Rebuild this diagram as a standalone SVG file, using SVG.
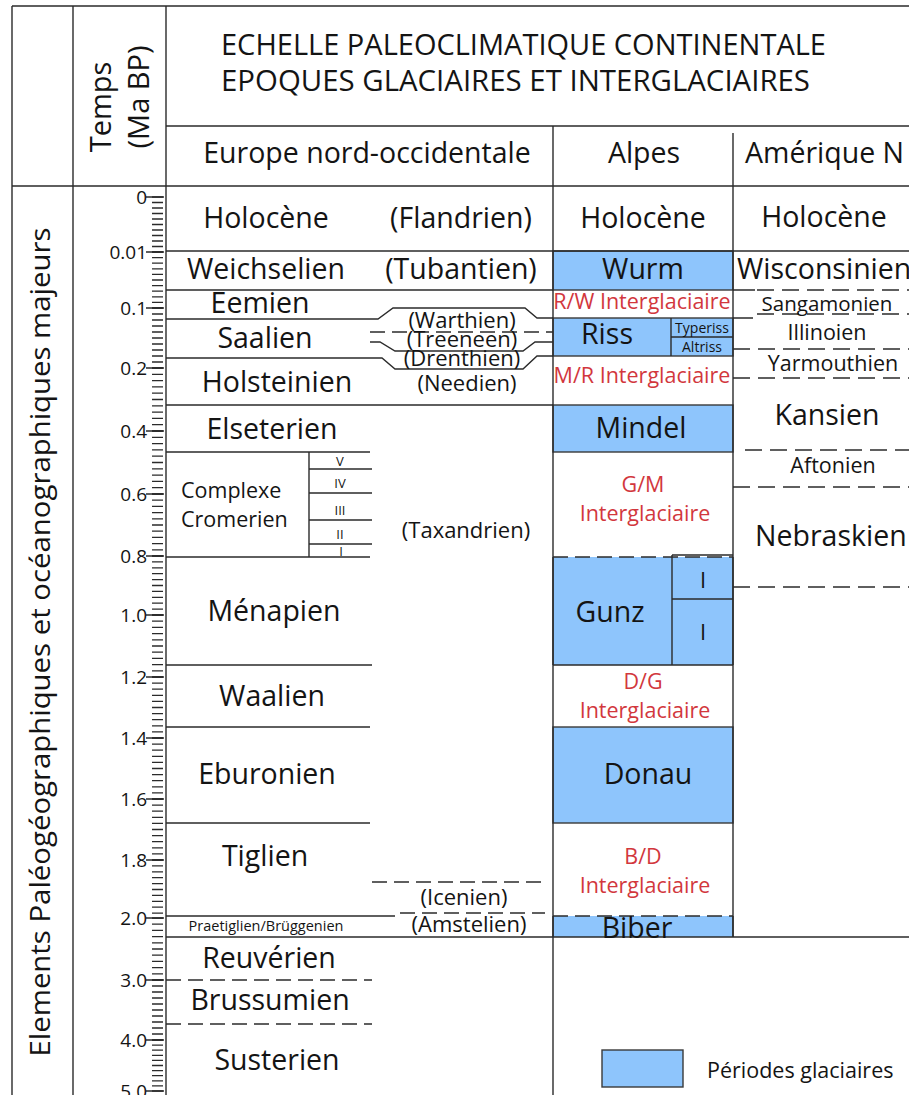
<svg xmlns="http://www.w3.org/2000/svg" width="909" height="1095" viewBox="0 0 909 1095">
<style>
text{font-family:"Open Sans","Liberation Sans",sans-serif;fill:#141414}
.l{stroke:#2b2b2b;stroke-width:1.4;fill:none}
.d{stroke:#2b2b2b;stroke-width:1.4;fill:none;stroke-dasharray:15 7}
.da{stroke:#2b2b2b;stroke-width:1.4;fill:none;stroke-dasharray:17 8}
.g{fill:#8ec5fc;stroke:none}
.gs{fill:#8ec5fc;stroke:#3a3a3a;stroke-width:1.4}
.r{fill:#d2373d}
.c{text-anchor:middle}
.big{font-size:28.5px}
.mid{font-size:22px}
.ig{font-size:21.5px}
.tk{font-size:19px;text-anchor:end}
.mt{stroke:#2b2b2b;stroke-width:11;fill:none}
</style>
<rect width="909" height="1095" fill="#fff"/>

<g id="title">
<text x="221" y="55" font-size="28.5" textLength="605" lengthAdjust="spacingAndGlyphs">ECHELLE PALEOCLIMATIQUE CONTINENTALE</text>
<text x="221" y="91" font-size="28.5" textLength="589" lengthAdjust="spacingAndGlyphs">EPOQUES GLACIAIRES ET INTERGLACIAIRES</text>
</g>
<g id="headers">
<text class="big c" x="367" y="163">Europe nord-occidentale</text>
<text class="big c" x="644" y="163">Alpes</text>
<text class="big" x="745" y="163">Amérique N</text>
<text class="c" font-size="29" transform="translate(111,107) rotate(-90)">Temps</text>
<text class="c" font-size="29" transform="translate(149,97) rotate(-90)">(Ma BP)</text>
<text class="c" font-size="28" textLength="829" lengthAdjust="spacingAndGlyphs" transform="translate(50,642) rotate(-90)">Elements Paléogéographiques et océanographiques majeurs</text>
</g>

<g id="scale">
<path class="l" stroke-width="1.6" d="M146,197H164M146,252H164M146,308H164M146,368H164M146,431H164M146,494H164M146,556H164M146,615H164M146,677H164M146,738H164M146,799H164M146,860H164M146,918H164M146,980H164M146,1040H164M146,1091H164"/>
<g class="mt">
<path d="M157.5,196.35V252.65" stroke-dasharray="1.3 4.2"/>
<path d="M157.5,251.35V308.65" stroke-dasharray="1.3 4.3"/>
<path d="M157.5,307.35V368.65" stroke-dasharray="1.3 4.7"/>
<path d="M157.5,367.35V431.65" stroke-dasharray="1.3 5.0"/>
<path d="M157.5,430.35V494.65" stroke-dasharray="1.3 5.0"/>
<path d="M157.5,493.35V556.65" stroke-dasharray="1.3 4.9"/>
<path d="M157.5,555.35V615.65" stroke-dasharray="1.3 4.6"/>
<path d="M157.5,614.35V677.65" stroke-dasharray="1.3 4.9"/>
<path d="M157.5,676.35V738.65" stroke-dasharray="1.3 4.8"/>
<path d="M157.5,737.35V799.65" stroke-dasharray="1.3 4.8"/>
<path d="M157.5,798.35V860.65" stroke-dasharray="1.3 4.8"/>
<path d="M157.5,859.35V918.65" stroke-dasharray="1.3 4.6"/>
<path d="M157.5,917.35V980.65" stroke-dasharray="1.3 4.9"/>
<path d="M157.5,979.35V1040.65" stroke-dasharray="1.3 4.7"/>
<path d="M157.5,1039.35V1095" stroke-dasharray="1.3 3.8"/>
</g>
<text class="tk" x="147" y="204">0</text>
<text class="tk" x="147" y="259">0.01</text>
<text class="tk" x="147" y="315">0.1</text>
<text class="tk" x="147" y="375">0.2</text>
<text class="tk" x="147" y="438">0.4</text>
<text class="tk" x="147" y="501">0.6</text>
<text class="tk" x="147" y="563">0.8</text>
<text class="tk" x="147" y="622">1.0</text>
<text class="tk" x="147" y="684">1.2</text>
<text class="tk" x="147" y="745">1.4</text>
<text class="tk" x="147" y="806">1.6</text>
<text class="tk" x="147" y="867">1.8</text>
<text class="tk" x="147" y="925">2.0</text>
<text class="tk" x="147" y="987">3.0</text>
<text class="tk" x="147" y="1047">4.0</text>
<text class="tk" x="147" y="1098">5.0</text>
</g>

<g id="alps-boxes">
<rect class="gs" x="553" y="251" width="180" height="39"/>
<rect class="gs" x="553" y="318" width="180" height="38"/>
<rect class="gs" x="553" y="405" width="180" height="47"/>
<rect class="g" x="553" y="557" width="180" height="108"/>
<rect class="gs" x="553" y="727" width="180" height="96"/>
<rect class="g" x="553" y="916" width="180" height="21"/>
</g>

<g id="connectors">
<path class="l" d="M12,6H909M12,6V1095M73,6V1095M166,6V1095M166,126H909M12,186H909M553,126V1095M733,133V937"/>
<path class="l" d="M166,251H909M166,290H553M733,290H755M166,319H378L393,308H525L537,318H553M370,342H380L395,351H523L535,342H553M166,358H382L395,369H523L537,356H553M166,405H553M166,452H370M166,557H370M166,665H372M166,727H370M166,823H370M166,916H395M166,937H909M733,318H753"/>
<path class="l" d="M309,452V557M309,469H372M309,493H372M309,520H372M309,544H372"/>
<path class="l" d="M671,318V356M671,337H733M672,555V665M672,555H733M672,599H733M553,665H733M553,557V665M733,557V665M553,916V937M733,916V937"/>
<path class="d" d="M166,980H372M166,1024H372M372,882H545M400,913H545M553,557H733M553,916H733"/>
<path class="d" stroke-dasharray="10 6" d="M370,332H553"/>
<path class="da" d="M757,290H909M757,314H909M733,349H909M733,378H909M745,450H909M733,487H909M733,587H909"/>
</g>

<g id="europe-stages">
<text class="big c" x="266" y="228">Holocène</text>
<text class="big c" x="266" y="279">Weichselien</text>
<text class="big c" x="260" y="313">Eemien</text>
<text class="big c" x="265" y="348">Saalien</text>
<text class="big c" x="277" y="392">Holsteinien</text>
<text class="big c" x="272" y="439">Elseterien</text>
<text class="ig" x="181" y="498">Complexe</text>
<text class="ig" x="181" y="527">Cromerien</text>
<g font-size="13">
<text class="c" x="340" y="466">V</text>
<text class="c" x="340" y="488">IV</text>
<text class="c" x="340" y="515">III</text>
<text class="c" x="340" y="539">II</text>
<text class="c" x="341" y="556">I</text>
</g>
<text class="big c" x="274" y="621">Ménapien</text>
<text class="big c" x="272" y="706">Waalien</text>
<text class="big c" x="267" y="784">Eburonien</text>
<text class="big c" x="265" y="866">Tiglien</text>
<text class="c" font-size="14.5" x="266" y="931">Praetiglien/Brüggenien</text>
<text class="big c" x="269" y="968">Reuvérien</text>
<text class="big c" x="270" y="1010">Brussumien</text>
<text class="big c" x="277" y="1070">Susterien</text>
</g>

<g id="europe-substages">
<text class="big c" x="461" y="228">(Flandrien)</text>
<text class="big c" x="461" y="279">(Tubantien)</text>
<text class="mid c" x="462" y="328">(Warthien)</text>
<text class="mid c" x="462" y="347">(Treeneen)</text>
<text class="mid c" x="462" y="366">(Drenthien)</text>
<text class="mid c" x="467" y="391">(Needien)</text>
<text class="mid c" x="466" y="538">(Taxandrien)</text>
<text class="mid c" x="464" y="905">(Icenien)</text>
<text class="mid c" x="469" y="932">(Amstelien)</text>
</g>

<g id="alps">
<text class="big c" x="643" y="228">Holocène</text>
<text class="big c" x="643" y="279">Wurm</text>
<text class="ig c r" x="642" y="309">R/W Interglaciaire</text>
<text class="big c" x="607" y="344">Riss</text>
<text class="c" font-size="14" x="702" y="333">Typeriss</text>
<text class="c" font-size="14" x="702" y="352">Altriss</text>
<text class="ig c r" x="642" y="383">M/R Interglaciaire</text>
<text class="big c" x="641" y="438">Mindel</text>
<text class="ig c r" x="643" y="492">G/M</text>
<text class="ig c r" x="645" y="521">Interglaciaire</text>
<text class="big c" x="610" y="622">Gunz</text>
<text class="mid c" x="703" y="588">I</text>
<text class="mid c" x="703" y="640">I</text>
<text class="ig c r" x="643" y="689">D/G</text>
<text class="ig c r" x="645" y="718">Interglaciaire</text>
<text class="big c" x="648" y="784">Donau</text>
<text class="ig c r" x="643" y="864">B/D</text>
<text class="ig c r" x="645" y="893">Interglaciaire</text>
<text class="big c" x="637" y="938">Biber</text>
</g>

<g id="america">
<text class="big c" x="824" y="227">Holocène</text>
<text class="big" x="737" y="279">Wisconsinien</text>
<text class="c" font-size="20.5" x="827" y="311">Sangamonien</text>
<text class="ig c" x="827" y="340">Illinoien</text>
<text class="ig c" x="833" y="371">Yarmouthien</text>
<text class="big c" x="827" y="425">Kansien</text>
<text class="ig c" x="833" y="473">Aftonien</text>
<text class="big" x="755" y="546">Nebraskien</text>
</g>

<g id="legend">
<rect class="gs" x="602" y="1050" width="81" height="37"/>
<text class="ig" x="707" y="1078">Périodes glaciaires</text>
</g>
</svg>
